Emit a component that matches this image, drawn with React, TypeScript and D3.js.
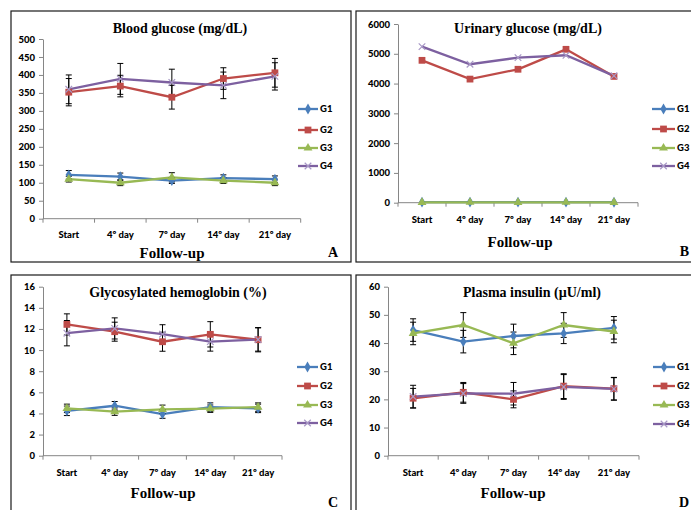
import { useEffect, useRef } from "react";
import * as d3 from "d3";

const days = ["Start", "4º day", "7º day", "14º day", "21º day"];
const groups = ["G1", "G2", "G3", "G4"];
const colors = ["#4a7ebb", "#be4b48", "#98b954", "#7d60a0"];

// blood glucose (mg/dL)
const bloodG1 = [122, 117, 106, 113, 110];
const bloodG2 = [352, 369, 338, 390, 406];
const bloodG3 = [110, 100, 115, 106, 100];
const bloodG4 = [360, 389, 379, 371, 396];
const bloodErrG1 = [12, 10, 8, 9, 9];
const bloodErrG2 = [38, 30, 33, 30, 40];
const bloodErrG3 = [8, 8, 13, 8, 8];
const bloodErrG4 = [40, 43, 37, 37, 38];

// urinary glucose (mg/dL)
const urineG1 = [18, 20, 17, 19, 16];
const urineG2 = [4780, 4150, 4480, 5150, 4240];
const urineG3 = [12, 14, 12, 13, 12];
const urineG4 = [5240, 4650, 4870, 4950, 4260];

// glycosylated hemoglobin (%)
const hbG1 = [4.25, 4.73, 3.94, 4.6, 4.48];
const hbG2 = [12.43, 11.74, 10.79, 11.49, 10.98];
const hbG3 = [4.48, 4.17, 4.39, 4.45, 4.6];
const hbG4 = [11.6, 12.05, 11.5, 10.8, 11.0];
const hbErrG1 = [0.45, 0.4, 0.4, 0.4, 0.4];
const hbErrG2 = [1.0, 0.9, 0.9, 1.2, 1.15];
const hbErrG3 = [0.4, 0.35, 0.4, 0.35, 0.4];
const hbErrG4 = [1.2, 1.0, 0.9, 0.9, 1.1];

// plasma insulin (µU/ml)
const insG1 = [44.6, 40.5, 42.5, 43.4, 45.4];
const insG2 = [20.4, 22.5, 20.0, 24.7, 23.8];
const insG3 = [43.4, 46.4, 39.9, 46.4, 44.1];
const insG4 = [21.0, 22.1, 22.0, 24.4, 23.7];
const insErrG1 = [4, 4, 4.2, 3.6, 4];
const insErrG2 = [3.5, 3.5, 3, 4.4, 4];
const insErrG3 = [4, 4.4, 4, 4.4, 4];
const insErrG4 = [4, 3.5, 4, 4.4, 4];

const symbols = [d3.symbolDiamond, d3.symbolSquare, d3.symbolTriangle, d3.symbolTimes];
const symSizes = [34, 46, 34, 30];

const tickFont = "Lato, 'Open Sans', sans-serif";
const serif = "'Liberation Serif', 'Times New Roman', serif";

const panels = [
    {
        title: "Blood glucose (mg/dL)", letter: "A",
        series: [bloodG1, bloodG2, bloodG3, bloodG4],
        errors: [bloodErrG1, bloodErrG2, bloodErrG3, bloodErrG4],
        max: 500, step: 50,
        box: [11, 11], plot: [43, 300.7, 218.7, 39],
        titleX: 180, titleY: 33, catY: 238, followX: 172, followY: 258,
        letterX: 333, letterY: 257, legendX: [298, 318], legendY: [109, 130, 148, 166],
    },
    {
        title: "Urinary glucose (mg/dL)", letter: "B",
        series: [urineG1, urineG2, urineG3, urineG4],
        errors: null,
        max: 6000, step: 1000,
        box: [356, 11], plot: [398, 638, 202.7, 24],
        titleX: 528, titleY: 33, catY: 223, followX: 520, followY: 247,
        letterX: 689, letterY: 256, legendX: [652, 675], legendY: [109, 129, 148, 166],
    },
    {
        title: "Glycosylated hemoglobin (%)", letter: "C",
        series: [hbG1, hbG2, hbG3, hbG4],
        errors: [hbErrG1, hbErrG2, hbErrG3, hbErrG4],
        max: 16, step: 2,
        box: [11, 275], plot: [43, 282, 455.7, 286.7],
        titleX: 178, titleY: 297, catY: 476, followX: 163, followY: 498,
        letterX: 333, letterY: 507, legendX: [297, 318], legendY: [367, 386, 405, 423],
    },
    {
        title: "Plasma insulin (µU/ml)", letter: "D",
        series: [insG1, insG2, insG3, insG4],
        errors: [insErrG1, insErrG2, insErrG3, insErrG4],
        max: 60, step: 10,
        box: [356, 275], plot: [388, 639, 455.7, 286.7],
        titleX: 532, titleY: 297, catY: 476, followX: 513, followY: 498,
        letterX: 689, letterY: 507, legendX: [653, 675], legendY: [367, 386, 405, 424],
    },
];

function drawPanel(svg, p) {
    const g = svg.append("g");
    const [left, right, bottom, top] = p.plot;

    g.append("rect")
        .attr("x", p.box[0]).attr("y", p.box[1])
        .attr("width", 340).attr("height", 251)
        .attr("fill", "none").attr("stroke", "#1a1a1a").attr("stroke-width", 1.2);

    const x = d3.scaleBand().domain(days).range([left, right]);
    const y = d3.scaleLinear().domain([0, p.max]).range([bottom, top]);

    // y axis
    const yAxis = d3.axisLeft(y)
        .tickValues(d3.range(0, p.max + p.step / 2, p.step))
        .tickFormat(d3.format("d"))
        .tickSize(4).tickSizeOuter(0).tickPadding(4);
    const ya = g.append("g").attr("transform", `translate(${left},0)`).call(yAxis);
    ya.select(".domain").attr("stroke", "#868686");
    ya.selectAll(".tick line").attr("stroke", "#868686");
    ya.selectAll("text")
        .attr("font-family", tickFont).attr("font-weight", 900)
        .attr("font-size", 9.5).attr("fill", "#000");

    // x axis
    g.append("line")
        .attr("x1", left).attr("x2", right).attr("y1", bottom).attr("y2", bottom)
        .attr("stroke", "#868686");
    g.selectAll(".xtick").data(d3.range(days.length + 1)).join("line")
        .attr("x1", i => left + i * x.step()).attr("x2", i => left + i * x.step())
        .attr("y1", bottom).attr("y2", bottom + 4)
        .attr("stroke", "#868686");
    g.selectAll(".xlab").data(days).join("text")
        .attr("x", d => x(d) + x.bandwidth() / 2).attr("y", p.catY)
        .attr("text-anchor", "middle")
        .attr("font-family", tickFont).attr("font-weight", 900).attr("font-size", 9.5)
        .text(d => d);

    const cx = (i) => x(days[i]) + x.bandwidth() / 2;
    const line = d3.line().x((d, i) => cx(i)).y(d => y(d));

    p.series.forEach((vals, s) => {
        g.append("path").datum(vals)
            .attr("d", line).attr("fill", "none")
            .attr("stroke", colors[s]).attr("stroke-width", 2.3);
    });

    if (p.errors) {
        p.series.forEach((vals, s) => {
            const err = p.errors[s];
            const eg = g.append("g").attr("stroke", "#000").attr("stroke-width", 1);
            vals.forEach((v, i) => {
                const x0 = cx(i);
                const y1 = y(v + err[i]), y2 = y(v - err[i]);
                eg.append("line").attr("x1", x0).attr("x2", x0).attr("y1", y1).attr("y2", y2);
                eg.append("line").attr("x1", x0 - 3).attr("x2", x0 + 3).attr("y1", y1).attr("y2", y1);
                eg.append("line").attr("x1", x0 - 3).attr("x2", x0 + 3).attr("y1", y2).attr("y2", y2);
            });
        });
    }

    p.series.forEach((vals, s) => {
        const sym = d3.symbol().type(symbols[s]).size(symSizes[s]);
        g.selectAll(null).data(vals).join("path")
            .attr("transform", (d, i) => `translate(${cx(i)},${y(d)})`)
            .attr("d", sym)
            .attr("fill", s === 3 ? "none" : colors[s])
            .attr("stroke", s === 3 ? "#a898c6" : "none")
            .attr("stroke-width", 1.2);
    });

    // legend
    groups.forEach((name, s) => {
        const ly = p.legendY[s];
        g.append("line")
            .attr("x1", p.legendX[0]).attr("x2", p.legendX[1]).attr("y1", ly).attr("y2", ly)
            .attr("stroke", colors[s]).attr("stroke-width", 2.3);
        g.append("path")
            .attr("transform", `translate(${(p.legendX[0] + p.legendX[1]) / 2},${ly})`)
            .attr("d", d3.symbol().type(symbols[s]).size(symSizes[s]))
            .attr("fill", s === 3 ? "none" : colors[s])
            .attr("stroke", s === 3 ? "#a898c6" : "none")
            .attr("stroke-width", 1.2);
        g.append("text")
            .attr("x", p.legendX[1] + 2).attr("y", ly).attr("dy", "0.35em")
            .attr("font-family", tickFont).attr("font-weight", 900).attr("font-size", 9.5)
            .text(name);
    });

    g.append("text")
        .attr("x", p.titleX).attr("y", p.titleY).attr("text-anchor", "middle")
        .attr("font-family", serif).attr("font-weight", "bold").attr("font-size", 14)
        .text(p.title);
    g.append("text")
        .attr("x", p.followX).attr("y", p.followY).attr("text-anchor", "middle")
        .attr("font-family", serif).attr("font-weight", "bold").attr("font-size", 15)
        .text("Follow-up");
    g.append("text")
        .attr("x", p.letterX).attr("y", p.letterY).attr("text-anchor", p.letterX > 680 ? "end" : "middle")
        .attr("font-family", serif).attr("font-weight", "bold").attr("font-size", 14)
        .text(p.letter);
}

export default function App() {
    const ref = useRef(null);

    useEffect(() => {
        const svg = d3.select(ref.current);
        svg.selectAll("*").remove();
        panels.forEach(p => drawPanel(svg, p));
    }, []);

    return (
        <svg ref={ref} width={691} height={510}
            style={{ position: "absolute", left: 0, top: 0, background: "#fff" }}></svg>
    );
}
